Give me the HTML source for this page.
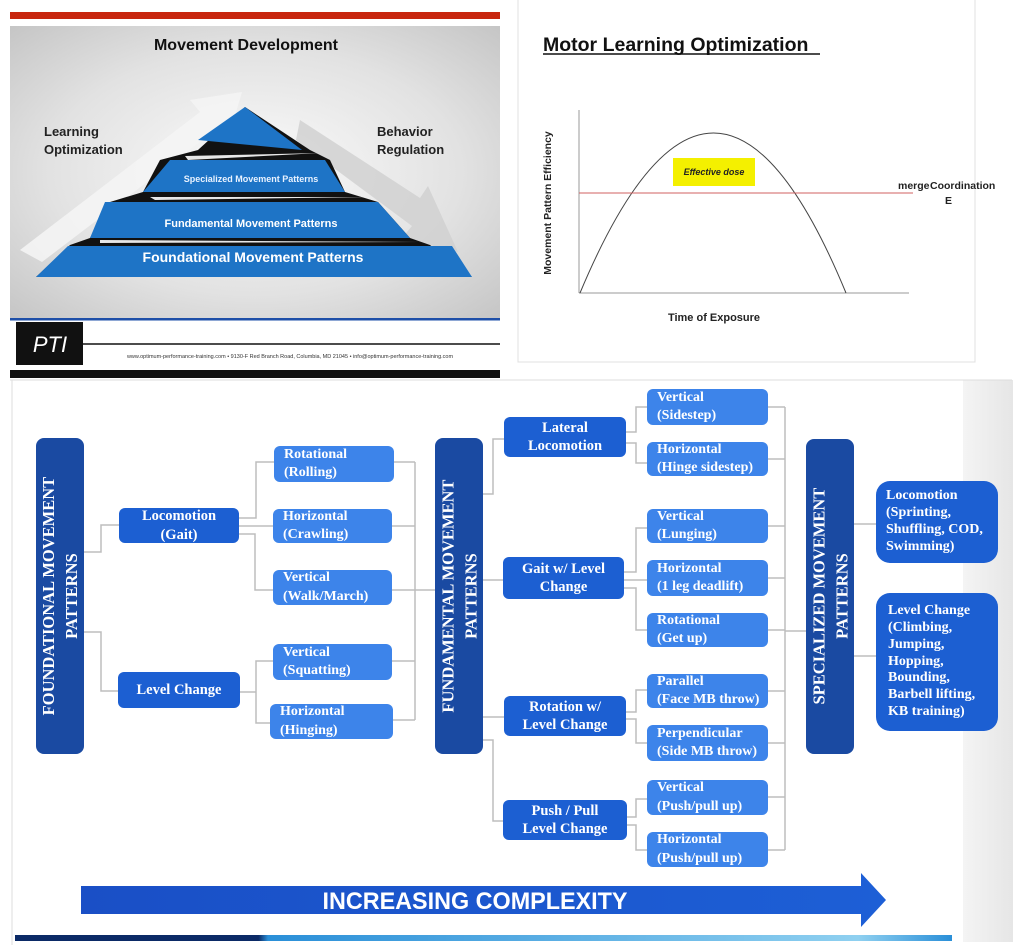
<!DOCTYPE html>
<html><head><meta charset="utf-8"><style>
*{margin:0;padding:0;box-sizing:border-box}
body{width:1024px;height:951px;background:#fff;position:relative;overflow:hidden;font-family:"Liberation Sans",sans-serif}
.b{position:absolute;color:#fff;font-family:"Liberation Serif",serif;font-weight:bold;border-radius:6px;display:flex;flex-direction:column;justify-content:center;line-height:1.25}
.l1{background:#1c5fd2;align-items:center;text-align:center;font-size:14.5px}
.lf{background:#3d84ea;padding-left:10px;font-size:14px;line-height:1.3}
.col{background:#1a4aa2;border-radius:8px;align-items:center;justify-content:center}
.col span{transform:rotate(-90deg);white-space:nowrap;text-align:center;font-size:16.5px;line-height:1.4}
.rb{background:#1c5fd2;border-radius:14px;padding-left:10px;font-size:14px;line-height:1.2}
</style></head><body>
<svg width="1024" height="951" style="position:absolute;left:0;top:0">
<defs>
<radialGradient id="gp" cx="0.5" cy="0.5" r="0.7"><stop offset="0" stop-color="#fbfbfb"/><stop offset="0.6" stop-color="#e2e2e2"/><stop offset="1" stop-color="#c6c6c6"/></radialGradient>
<linearGradient id="bl" x1="0" x2="1"><stop offset="0" stop-color="#0b2a66"/><stop offset="0.26" stop-color="#0b2a66"/><stop offset="0.27" stop-color="#2a8fd8"/><stop offset="0.9" stop-color="#8fd0f0"/><stop offset="1" stop-color="#2a8fd8"/></linearGradient>
<linearGradient id="ar" x1="0" x2="1"><stop offset="0" stop-color="#1a4fc6"/><stop offset="1" stop-color="#1d5fd6"/></linearGradient>
<linearGradient id="sg" x1="0" x2="1"><stop offset="0" stop-color="#f4f4f4"/><stop offset="1" stop-color="#e6e6e6"/></linearGradient>
</defs>
<rect x="10" y="12" width="490" height="7" fill="#c8260e"/>
<rect x="10" y="26" width="490" height="292" fill="url(#gp)"/>
<polygon points="20,250 200,112 190,100 242,92 228,140 218,128 42,262" fill="#f4f4f4" opacity="0.9"/>
<polygon points="300,120 420,198 428,186 458,252 402,238 412,226 296,140" fill="#cfcfcf" opacity="0.8"/>
<polygon points="245,107 310,150 330,160 345,192 378,202 410,238 430,245 472,277 36,277 70,245 90,238 110,202 143,192 160,160 198,150" fill="#111"/>
<polygon points="245,107 302,150 198,140" fill="#1e74c6"/>
<polygon points="170,160 325,160 345,192 143,192" fill="#1e74c6"/>
<polygon points="105,202 378,202 410,238 90,238" fill="#1e74c6"/>
<polygon points="68,246 452,246 472,277 36,277" fill="#1e74c6"/>
<polygon points="185,156 320,153 188,160" fill="#fff" opacity="0.9"/>
<polygon points="150,197 370,197 155,200" fill="#fff" opacity="0.9"/>
<polygon points="100,240 420,242 100,243" fill="#fff" opacity="0.9"/>
<text x="246" y="50" font-size="16" font-weight="bold" text-anchor="middle" fill="#111">Movement Development</text>
<text x="44" y="136" font-size="13" font-weight="bold" fill="#222">Learning</text>
<text x="44" y="154" font-size="13" font-weight="bold" fill="#222">Optimization</text>
<text x="377" y="136" font-size="13" font-weight="bold" fill="#222">Behavior</text>
<text x="377" y="154" font-size="13" font-weight="bold" fill="#222">Regulation</text>
<text x="251" y="182" font-size="9" font-weight="bold" text-anchor="middle" fill="#e8f2ff">Specialized Movement Patterns</text>
<text x="251" y="227" font-size="11" font-weight="bold" text-anchor="middle" fill="#fff">Fundamental Movement Patterns</text>
<text x="253" y="262" font-size="14" font-weight="bold" text-anchor="middle" fill="#fff">Foundational Movement Patterns</text>
<rect x="10" y="318" width="490" height="2.5" fill="#1e4fa8"/>
<rect x="10" y="320.5" width="490" height="50" fill="#fff"/>
<line x1="82" y1="344" x2="500" y2="344" stroke="#111" stroke-width="1.5"/>
<rect x="16" y="322" width="67" height="43" fill="#111"/>
<text x="50" y="352" font-size="22" fill="#fff" text-anchor="middle" font-style="italic">PTI</text>
<text x="290" y="358" font-size="5.5" fill="#333" text-anchor="middle">www.optimum-performance-training.com  •  9130-F Red Branch Road, Columbia, MD 21045  •  info@optimum-performance-training.com</text>
<rect x="10" y="370" width="490" height="8" fill="#111"/>
<rect x="518" y="-2" width="457" height="364" fill="#fff" stroke="#e0e0e0"/>
<text x="543" y="51" font-size="19.5" font-weight="bold" fill="#111">Motor Learning Optimization</text>
<line x1="543" y1="54" x2="820" y2="54" stroke="#111" stroke-width="1.5"/>
<line x1="579" y1="110" x2="579" y2="293" stroke="#999"/>
<line x1="579" y1="293" x2="909" y2="293" stroke="#999"/>
<path d="M580,293 Q714,-27 846,293" fill="none" stroke="#444" stroke-width="1"/>
<line x1="579" y1="193" x2="913" y2="193" stroke="#d06060" stroke-width="1"/>
<rect x="673" y="158" width="82" height="28" fill="#f4f000"/>
<text x="714" y="175" font-size="9" font-weight="bold" font-style="italic" text-anchor="middle" fill="#222">Effective dose</text>
<text x="898" y="189" font-size="10.5" font-weight="bold" fill="#222">merge</text>
<text x="930" y="189" font-size="10.5" font-weight="bold" fill="#222">Coordination</text>
<text x="945" y="204" font-size="10.5" font-weight="bold" fill="#222">E</text>
<text transform="translate(551,203) rotate(-90)" font-size="10.5" font-weight="bold" text-anchor="middle" fill="#222">Movement Pattern Efficiency</text>
<text x="714" y="321" font-size="11" font-weight="bold" text-anchor="middle" fill="#222">Time of Exposure</text>
<rect x="963" y="380" width="50" height="562" fill="url(#sg)"/>
<line x1="10" y1="380" x2="1012" y2="380" stroke="#ddd"/>
<line x1="12" y1="380" x2="12" y2="945" stroke="#ddd"/>
<g stroke="#bdbdbd" stroke-width="1.5" fill="none">
<path d="M84,552H101V525H119M84,632H101V691H118"/>
<path d="M239,518H256V462H274M239,526H273M239,534H255V590H273M240,692H256V661H273M256,692V723H270"/>
<path d="M394,462H415M392,526H415M392,590H415M392,661H415M393,720H415M415,462V720M415,590H435"/>
<path d="M483,494H493V439H504M483,580H503M483,717H504M483,740H493V821H503"/>
<path d="M626,432H636V407H647M626,443H636V463H647M624,572H636V528H647M624,580H647M624,588H636V630H647M626,712H636V690H647M626,719H636V743H647M627,817H636V799H647M627,825H636V850H647"/>
<path d="M768,407H785M768,459H785M768,526H785M768,578H785M768,630H785M768,691H785M768,743H785M768,797H785M768,850H785M785,407V850M785,631H806"/>
<path d="M854,524H876M854,656H876"/>
</g>
<polygon points="81,886 861,886 861,873 886,900 861,927 861,914 81,914" fill="url(#ar)"/>
<text x="475" y="909" font-size="24" font-weight="bold" text-anchor="middle" fill="#fff" textLength="305" lengthAdjust="spacingAndGlyphs">INCREASING COMPLEXITY</text>
<rect x="15" y="935" width="937" height="6" fill="url(#bl)"/>
</svg>
<div class="b col" style="left:36px;top:438px;width:48px;height:316px"><span>FOUNDATIONAL MOVEMENT<br>PATTERNS</span></div>
<div class="b col" style="left:435px;top:438px;width:48px;height:316px"><span>FUNDAMENTAL MOVEMENT<br>PATTERNS</span></div>
<div class="b col" style="left:806px;top:439px;width:48px;height:315px"><span>SPECIALIZED MOVEMENT<br>PATTERNS</span></div>
<div class="b l1" style="left:119px;top:508px;width:120px;height:35px">Locomotion<br>(Gait)</div>
<div class="b l1" style="left:118px;top:672px;width:122px;height:36px">Level Change</div>
<div class="b lf" style="left:274px;top:446px;width:120px;height:36px">Rotational<br>(Rolling)</div>
<div class="b lf" style="left:273px;top:509px;width:119px;height:34px">Horizontal<br>(Crawling)</div>
<div class="b lf" style="left:273px;top:570px;width:119px;height:35px">Vertical<br>(Walk/March)</div>
<div class="b lf" style="left:273px;top:644px;width:119px;height:36px">Vertical<br>(Squatting)</div>
<div class="b lf" style="left:270px;top:704px;width:123px;height:35px">Horizontal<br>(Hinging)</div>
<div class="b l1" style="left:504px;top:417px;width:122px;height:40px">Lateral<br>Locomotion</div>
<div class="b l1" style="left:503px;top:557px;width:121px;height:42px">Gait w/ Level<br>Change</div>
<div class="b l1" style="left:504px;top:696px;width:122px;height:40px">Rotation w/<br>Level Change</div>
<div class="b l1" style="left:503px;top:800px;width:124px;height:40px">Push / Pull<br>Level Change</div>
<div class="b lf" style="left:647px;top:389px;width:121px;height:36px">Vertical<br>(Sidestep)</div>
<div class="b lf" style="left:647px;top:442px;width:121px;height:34px">Horizontal<br>(Hinge sidestep)</div>
<div class="b lf" style="left:647px;top:509px;width:121px;height:34px">Vertical<br>(Lunging)</div>
<div class="b lf" style="left:647px;top:560px;width:121px;height:36px">Horizontal<br>(1 leg deadlift)</div>
<div class="b lf" style="left:647px;top:613px;width:121px;height:34px">Rotational<br>(Get up)</div>
<div class="b lf" style="left:647px;top:674px;width:121px;height:34px">Parallel<br>(Face MB throw)</div>
<div class="b lf" style="left:647px;top:725px;width:121px;height:36px">Perpendicular<br>(Side MB throw)</div>
<div class="b lf" style="left:647px;top:780px;width:121px;height:35px">Vertical<br>(Push/pull up)</div>
<div class="b lf" style="left:647px;top:832px;width:121px;height:35px">Horizontal<br>(Push/pull up)</div>
<div class="b rb" style="left:876px;top:481px;width:122px;height:82px">Locomotion<br>(Sprinting,<br>Shuffling, COD,<br>Swimming)</div>
<div class="b rb" style="left:876px;top:593px;width:122px;height:138px;padding-left:12px">Level Change<br>(Climbing,<br>Jumping,<br>Hopping,<br>Bounding,<br>Barbell lifting,<br>KB training)</div>
</body></html>
